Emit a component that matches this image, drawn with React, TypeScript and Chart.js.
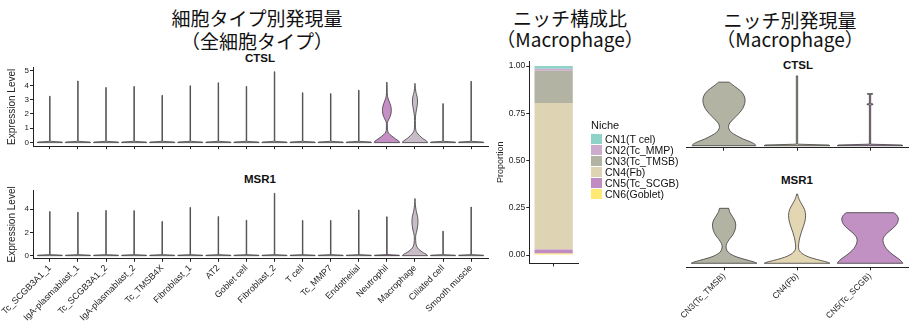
import React, { useEffect, useRef } from 'react';
import { Chart, registerables } from 'chart.js';
Chart.register(...registerables);

const FONT = "'Liberation Sans', Arial, Helvetica, sans-serif";
const CJK = "'Noto Sans CJK JP', 'Noto Sans CJK SC', sans-serif";
const AXIS = '#222222';
const TXT = '#222222';
const OUTLINE = '#3a3a3a';

// ---------- data ----------
const cellTypes = [
  'Tc_SCGB3A1_1', 'IgA-plasmablast_1', 'Tc_SCGB3A1_2', 'IgA-plasmablast_2', 'Tc_TMSB4X',
  'Fibroblast_1', 'AT2', 'Goblet cell', 'Fibroblast_2', 'T cell', 'Tc_MMP7', 'Endothelial',
  'Neutrophil', 'Macrophage', 'Ciliated cell', 'Smooth muscle',
];
const ctslMax = [3.24, 4.3, 3.85, 3.92, 3.3, 3.97, 4.18, 3.92, 4.95, 3.48, 3.42, 3.66, 4.22, 4.13, 2.72, 4.28];
const msr1Max = [3.8, 3.75, 3.9, 3.88, 2.95, 4.16, 3.37, 3.06, 5.38, 3.04, 3.04, 3.94, 3.35, 4.92, 2.11, 4.19];
const cellFills = [
  '#f2f2f2', '#f2f2f2', '#f2f2f2', '#f2f2f2', '#f2f2f2', '#f2f2f2', '#f2f2f2', '#f2f2f2',
  '#f2f2f2', '#f2f2f2', '#f2f2f2', '#f2f2f2', '#c58fc6', '#c9bcc9', '#f2f2f2', '#f2f2f2',
];
const ctslTicks = [0, 1, 2, 3, 4, 5];
const msr1Ticks = [0, 2, 4];

// density profiles (level, relative width)
const neutrophilCtslLevels = [0, 0.1, 0.25, 0.45, 0.65, 0.85, 1.2, 1.45, 1.7, 2.0, 2.3, 2.6, 2.9, 3.2, 3.5, 4.22];
const neutrophilCtslWidths = [1.0, 0.95, 0.7, 0.4, 0.15, 0.05, 0.04, 0.06, 0.2, 0.32, 0.35, 0.3, 0.17, 0.06, 0.03, 0.01];
const macrophageCtslLevels = [0, 0.1, 0.3, 0.5, 0.7, 0.9, 1.3, 1.8, 2.2, 2.6, 2.9, 3.2, 3.5, 3.8, 4.13];
const macrophageCtslWidths = [1.0, 0.93, 0.6, 0.35, 0.15, 0.06, 0.03, 0.04, 0.1, 0.18, 0.2, 0.17, 0.08, 0.03, 0.01];
const macrophageMsr1Levels = [0, 0.1, 0.3, 0.55, 0.8, 1.1, 1.5, 1.8, 2.2, 2.6, 3.0, 3.4, 3.8, 4.2, 4.6, 4.92];
const macrophageMsr1Widths = [1.0, 0.92, 0.6, 0.3, 0.14, 0.07, 0.05, 0.07, 0.16, 0.22, 0.24, 0.2, 0.11, 0.05, 0.02, 0.01];
const thinLevels = [0, 0.04, 0.09];
const thinWidths = [1.0, 0.97, 0.02];

const niches = ['CN1(T cel)', 'CN2(Tc_MMP)', 'CN3(Tc_TMSB)', 'CN4(Fb)', 'CN5(Tc_SCGB)', 'CN6(Goblet)'];
const nicheProportion = [0.015, 0.01, 0.17, 0.775, 0.022, 0.008];
const nicheColors = ['#8dd3c7', '#ccabcc', '#b3b3a3', '#ded4b3', '#c08cc1', '#ffe873'];
const propTicks = [0, 0.25, 0.5, 0.75, 1.0];

const nicheViolinGroups = ['CN3(Tc_TMSB)', 'CN4(Fb)', 'CN5(Tc_SCGB)'];
const nicheViolinFills = ['#b3b3a3', '#e3d6b3', '#c291c3'];
const cn3CtslLevels = [0, 0.1, 0.25, 0.4, 0.6, 0.8, 1.0, 1.15, 1.35, 1.6, 1.9, 2.2, 2.5, 2.75, 3.0, 3.25, 3.5, 3.7, 3.76];
const cn3CtslWidths = [0.97, 0.93, 0.78, 0.58, 0.38, 0.22, 0.15, 0.14, 0.18, 0.3, 0.45, 0.57, 0.63, 0.64, 0.6, 0.5, 0.33, 0.2, 0.16];
const cn4CtslMax = 4.13;
const cn5CtslLevels = [0, 0.04, 0.09, 2.41, 2.43, 2.47, 2.49, 3.03, 3.05, 3.08];
const cn5CtslWidths = [1.0, 0.97, 0.02, 0.02, 0.09, 0.09, 0.02, 0.02, 0.08, 0.08];
const cn3Msr1Levels = [0, 0.08, 0.2, 0.35, 0.5, 0.7, 0.9, 1.15, 1.4, 1.7, 2.0, 2.35, 2.7, 3.0, 3.3, 3.6, 3.9];
const cn3Msr1Widths = [1.0, 0.93, 0.75, 0.52, 0.33, 0.17, 0.09, 0.06, 0.08, 0.16, 0.26, 0.33, 0.355, 0.33, 0.26, 0.18, 0.14];
const cn4Msr1Levels = [0, 0.08, 0.2, 0.35, 0.5, 0.7, 0.9, 1.1, 1.4, 1.8, 2.2, 2.6, 3.0, 3.4, 3.8, 4.2, 4.55, 4.92];
const cn4Msr1Widths = [1.0, 0.92, 0.72, 0.48, 0.3, 0.15, 0.07, 0.045, 0.05, 0.08, 0.13, 0.19, 0.24, 0.26, 0.23, 0.14, 0.06, 0.01];
const cn5Msr1Levels = [0, 0.1, 0.3, 0.6, 0.9, 1.2, 1.5, 1.75, 2.0, 2.3, 2.6, 2.9, 3.2, 3.45, 3.59];
const cn5Msr1Widths = [1.0, 0.97, 0.88, 0.7, 0.55, 0.45, 0.4, 0.4, 0.46, 0.6, 0.75, 0.84, 0.86, 0.8, 0.72];

// ---------- violin helpers ----------
type Violin = { pos: number; levels: number[]; widths: number[]; fill: string; smooth: boolean };
const HALF = 0.45;

function thin(pos: number, max: number, fill: string): Violin {
  return { pos, fill, smooth: false, levels: [...thinLevels, max], widths: [...thinWidths, thinWidths[2]] };
}

function pathThrough(ctx: CanvasRenderingContext2D, pts: number[][], smooth: boolean) {
  for (let i = 0; i < pts.length - 1; i++) {
    const p1 = pts[i];
    const p2 = pts[i + 1];
    if (!smooth) { ctx.lineTo(p2[0], p2[1]); continue; }
    const p0 = pts[i - 1] || pts[i];
    const p3 = pts[i + 2] || pts[i + 1];
    ctx.bezierCurveTo(
      p1[0] + (p2[0] - p0[0]) / 6, p1[1] + (p2[1] - p0[1]) / 6,
      p2[0] - (p3[0] - p1[0]) / 6, p2[1] - (p3[1] - p1[1]) / 6,
      p2[0], p2[1]
    );
  }
}

function makeViolinPlugin(items: Violin[]) {
  return {
    id: 'violins',
    afterDatasetsDraw(chart: any) {
      const xs = chart.scales.x;
      const ys = chart.scales.y;
      const ctx: CanvasRenderingContext2D = chart.ctx;
      ctx.save();
      ctx.lineJoin = 'round';
      for (const v of items) {
        const right = v.levels.map((lv, k) => [xs.getPixelForValue(v.pos + HALF * v.widths[k]), ys.getPixelForValue(lv)]);
        const left = v.levels.map((lv, k) => [xs.getPixelForValue(v.pos - HALF * v.widths[k]), ys.getPixelForValue(lv)]).reverse();
        ctx.beginPath();
        ctx.moveTo(right[0][0], right[0][1]);
        pathThrough(ctx, right, v.smooth);
        ctx.lineTo(left[0][0], left[0][1]);
        pathThrough(ctx, left, v.smooth);
        ctx.closePath();
        ctx.fillStyle = v.fill;
        ctx.fill();
        ctx.strokeStyle = OUTLINE;
        ctx.lineWidth = 0.8;
        ctx.stroke();
      }
      ctx.restore();
    },
  };
}

type PanelProps = {
  left: number; top: number; width: number; height: number;
  categories: string[]; xMin: number; xMax: number; yMin: number; yMax: number;
  yTicks: number[]; showY: boolean; showXLabels: boolean; xLabelSize: number;
  padding: { left: number; right: number; top: number; bottom: number };
  yWidth: number; xHeight: number; violins: Violin[];
};

function ViolinPanel(p: PanelProps) {
  const ref = useRef<HTMLCanvasElement>(null);
  useEffect(() => {
    const chart = new Chart(ref.current as HTMLCanvasElement, {
      type: 'scatter',
      data: { datasets: [] },
      plugins: [makeViolinPlugin(p.violins)],
      options: {
        animation: false,
        responsive: false,
        maintainAspectRatio: false,
        events: [],
        layout: { padding: p.padding },
        plugins: { legend: { display: false }, tooltip: { enabled: false }, title: { display: false } },
        scales: {
          x: {
            type: 'linear',
            min: p.xMin,
            max: p.xMax,
            afterBuildTicks: (s: any) => { s.ticks = p.categories.map((_, i) => ({ value: i })); },
            afterFit: (s: any) => { s.height = p.xHeight; },
            grid: { display: true, drawOnChartArea: false, drawTicks: true, tickLength: 3, color: AXIS, lineWidth: 1 },
            border: { display: true, color: AXIS, width: 1 },
            ticks: {
              display: p.showXLabels,
              autoSkip: false,
              maxRotation: 45,
              minRotation: 45,
              padding: 1,
              color: TXT,
              font: { family: FONT, size: p.xLabelSize },
              callback: (v: any) => p.categories[v as number] ?? '',
            },
          },
          y: {
            type: 'linear',
            display: p.showY,
            min: p.yMin,
            max: p.yMax,
            afterBuildTicks: (s: any) => { s.ticks = p.yTicks.map((v) => ({ value: v })); },
            afterFit: (s: any) => { s.width = p.yWidth; },
            grid: { display: true, drawOnChartArea: false, drawTicks: true, tickLength: 3, color: AXIS, lineWidth: 1 },
            border: { display: true, color: AXIS, width: 1 },
            ticks: { padding: 1, color: TXT, font: { family: FONT, size: 8 }, callback: (v: any) => String(v) },
            title: { display: true, text: 'Expression Level', color: TXT, font: { family: FONT, size: 10 }, padding: { top: 6, bottom: 0 } },
          },
        },
      } as any,
    });
    return () => chart.destroy();
  }, []);
  return (
    <canvas ref={ref} width={p.width} height={p.height}
      style={{ position: 'absolute', left: p.left, top: p.top, width: p.width, height: p.height }} />
  );
}

function BarPanel() {
  const ref = useRef<HTMLCanvasElement>(null);
  useEffect(() => {
    const order = [5, 4, 3, 2, 1, 0];
    const chart = new Chart(ref.current as HTMLCanvasElement, {
      type: 'bar',
      data: {
        labels: [''],
        datasets: order.map((i) => ({
          label: niches[i],
          data: [nicheProportion[i]],
          backgroundColor: nicheColors[i],
          borderWidth: 0,
          barPercentage: 0.786,
          categoryPercentage: 1,
          stack: 's',
        })),
      },
      options: {
        animation: false,
        responsive: false,
        maintainAspectRatio: false,
        events: [],
        layout: { padding: { left: 0, right: 7, top: 5, bottom: 0 } },
        plugins: { legend: { display: false }, tooltip: { enabled: false } },
        scales: {
          x: {
            stacked: true,
            afterFit: (s: any) => { s.height = 6.6; },
            grid: { display: true, offset: false, drawOnChartArea: false, drawTicks: true, tickLength: 3, color: AXIS },
            border: { display: true, color: AXIS, width: 1 },
            ticks: { display: false },
          },
          y: {
            stacked: true,
            min: -0.044,
            max: 1.026,
            afterBuildTicks: (s: any) => { s.ticks = propTicks.map((v) => ({ value: v })); },
            afterFit: (s: any) => { s.width = 39.3; },
            grid: { display: true, drawOnChartArea: false, drawTicks: true, tickLength: 3, color: AXIS },
            border: { display: true, color: AXIS, width: 1 },
            ticks: { padding: 1, color: TXT, font: { family: FONT, size: 8.5 }, callback: (v: any) => Number(v).toFixed(2) },
            title: { display: true, text: 'Proportion', color: TXT, font: { family: FONT, size: 9 }, padding: { top: 5, bottom: 0 } },
          },
        },
      } as any,
    });
    return () => chart.destroy();
  }, []);
  return <canvas ref={ref} width={95} height={215} style={{ position: 'absolute', left: 490, top: 55, width: 95, height: 215 }} />;
}

function CenterText(props: { cx: number; cy: number; text: string; size: number; bold?: boolean; family: string }) {
  const lh = Math.round(props.size * 1.3);
  return (
    <div style={{
      position: 'absolute', left: props.cx - 150, width: 300, top: props.cy - lh / 2, height: lh,
      lineHeight: lh + 'px', textAlign: 'center', fontSize: props.size, fontFamily: props.family,
      fontWeight: props.bold ? 700 : 400, color: '#111', whiteSpace: 'nowrap',
    }}>{props.text}</div>
  );
}

export default function App() {
  const leftCtsl: Violin[] = cellTypes.map((_, i) => {
    if (i === 12) return { pos: i, levels: neutrophilCtslLevels, widths: neutrophilCtslWidths, fill: cellFills[i], smooth: true };
    if (i === 13) return { pos: i, levels: macrophageCtslLevels, widths: macrophageCtslWidths, fill: cellFills[i], smooth: true };
    return thin(i, ctslMax[i], cellFills[i]);
  });
  const leftMsr1: Violin[] = cellTypes.map((_, i) => {
    if (i === 13) return { pos: i, levels: macrophageMsr1Levels, widths: macrophageMsr1Widths, fill: cellFills[i], smooth: true };
    return thin(i, msr1Max[i], cellFills[i]);
  });
  const rightCtsl: Violin[] = [
    { pos: 0, levels: cn3CtslLevels, widths: cn3CtslWidths, fill: nicheViolinFills[0], smooth: true },
    thin(1, cn4CtslMax, nicheViolinFills[1]),
    { pos: 2, levels: cn5CtslLevels, widths: cn5CtslWidths, fill: nicheViolinFills[2], smooth: false },
  ];
  const rightMsr1: Violin[] = [
    { pos: 0, levels: cn3Msr1Levels, widths: cn3Msr1Widths, fill: nicheViolinFills[0], smooth: true },
    { pos: 1, levels: cn4Msr1Levels, widths: cn4Msr1Widths, fill: nicheViolinFills[1], smooth: true },
    { pos: 2, levels: cn5Msr1Levels, widths: cn5Msr1Widths, fill: nicheViolinFills[2], smooth: true },
  ];

  return (
    <div style={{ position: 'absolute', left: 0, top: 0, width: 910, height: 322, background: '#fff', overflow: 'hidden' }}>
      <CenterText cx={257} cy={17.5} text="細胞タイプ別発現量" size={19} family={CJK} />
      <CenterText cx={257} cy={40} text="（全細胞タイプ）" size={19} family={CJK} />
      <CenterText cx={570} cy={17} text="ニッチ構成比" size={19} family={CJK} />
      <CenterText cx={570} cy={38} text="（Macrophage）" size={19} family={CJK} />
      <CenterText cx={790} cy={19} text="ニッチ別発現量" size={19} family={CJK} />
      <CenterText cx={790} cy={38} text="（Macrophage）" size={19} family={CJK} />

      <CenterText cx={260} cy={58} text="CTSL" size={11.5} bold family={FONT} />
      <CenterText cx={260} cy={179} text="MSR1" size={11.5} bold family={FONT} />
      <CenterText cx={798} cy={65} text="CTSL" size={11.5} bold family={FONT} />
      <CenterText cx={797} cy={180} text="MSR1" size={11.5} bold family={FONT} />

      <ViolinPanel left={0} top={60} width={500} height={92} categories={cellTypes}
        xMin={-0.6} xMax={15.6} yMin={-0.25} yMax={5.25} yTicks={ctslTicks} showY showXLabels={false} xLabelSize={9}
        padding={{ left: 0, right: 12, top: 7.4, bottom: 0 }} yWidth={33} xHeight={5.4} violins={leftCtsl} />
      <ViolinPanel left={0} top={180} width={500} height={142} categories={cellTypes}
        xMin={-0.6} xMax={15.6} yMin={-0.27} yMax={5.66} yTicks={msr1Ticks} showY showXLabels xLabelSize={9}
        padding={{ left: 0, right: 12, top: 10, bottom: 0 }} yWidth={33} xHeight={63.2} violins={leftMsr1} />

      <BarPanel />
      <div style={{ position: 'absolute', left: 591, top: 118, fontFamily: FONT, fontSize: 11, color: '#111', lineHeight: '14px' }}>Niche</div>
      {niches.map((n, i) => (
        <div key={n} style={{ position: 'absolute', left: 591, top: 133.5 + i * 11, height: 11, display: 'flex', alignItems: 'center' }}>
          <div style={{ width: 11, height: 10, background: nicheColors[i] }} />
          <div style={{ marginLeft: 3, fontFamily: FONT, fontSize: 10.5, color: '#111', lineHeight: '11px', whiteSpace: 'nowrap' }}>{n}</div>
        </div>
      ))}

      <ViolinPanel left={680} top={68} width={230} height={85} categories={nicheViolinGroups}
        xMin={-0.52} xMax={2.52} yMin={-0.118} yMax={4.36} yTicks={[]} showY={false} showXLabels={false} xLabelSize={8.5}
        padding={{ left: 6, right: 2, top: 4, bottom: 0 }} yWidth={0} xHeight={5.3} violins={rightCtsl} />
      <ViolinPanel left={680} top={186} width={230} height={136} categories={nicheViolinGroups}
        xMin={-0.52} xMax={2.52} yMin={-0.284} yMax={5.2} yTicks={[]} showY={false} showXLabels xLabelSize={8.5}
        padding={{ left: 6, right: 2, top: 4, bottom: 0 }} yWidth={0} xHeight={54.7} violins={rightMsr1} />
    </div>
  );
}
